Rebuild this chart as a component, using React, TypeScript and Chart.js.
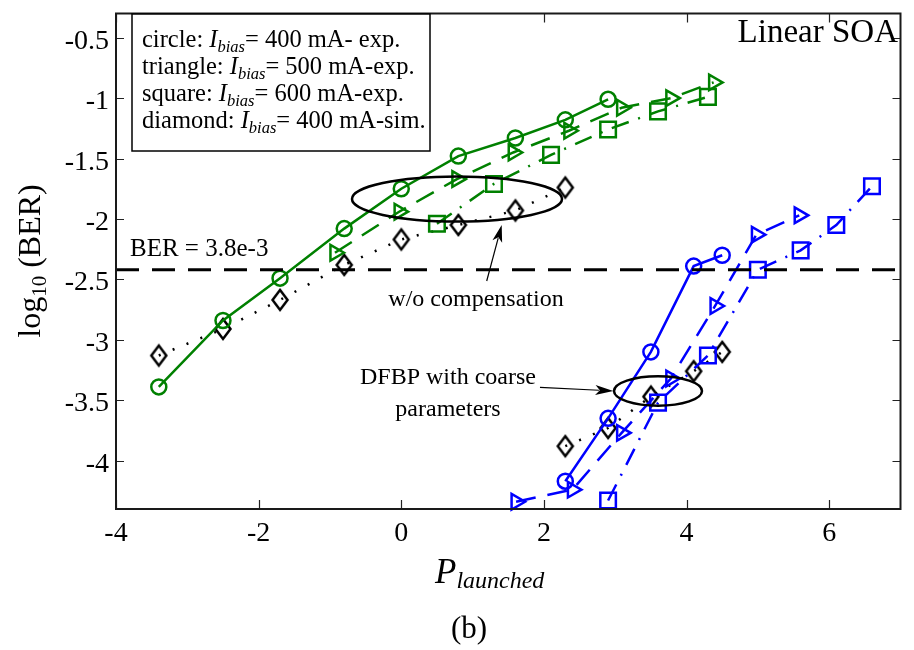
import React, { useEffect, useRef } from 'react';
import { Chart, registerables } from 'chart.js';

Chart.register(...registerables);

// Axis ticks
const xTicks = [-4, -2, 0, 2, 4, 6];
const xTickLabels = ['-4', '-2', '0', '2', '4', '6'];
const yTicks = [-4, -3.5, -3, -2.5, -2, -1.5, -1, -0.5];
const yTickLabels = ['-4', '-3.5', '-3', '-2.5', '-2', '-1.5', '-1', '-0.5'];

// BER threshold: log10(3.8e-3)
const berLevel = -2.42;

// Green: w/o compensation
const gCircleX = [-3.4, -2.5, -1.7, -0.8, 0.0, 0.8, 1.6, 2.3, 2.9];
const gCircleY = [-3.39, -2.84, -2.49, -2.08, -1.75, -1.48, -1.33, -1.18, -1.01];
const gTriX = [-0.93, -0.03, 0.78, 1.57, 2.35, 3.09, 3.78, 4.38];
const gTriY = [-2.28, -1.94, -1.67, -1.45, -1.27, -1.08, -1.0, -0.87];
const gSqX = [0.5, 1.3, 2.1, 2.9, 3.6, 4.3];
const gSqY = [-2.04, -1.71, -1.47, -1.26, -1.11, -0.99];
const gDiaX = [-3.4, -2.5, -1.7, -0.8, 0.0, 0.8, 1.6, 2.3];
const gDiaY = [-3.13, -2.91, -2.67, -2.38, -2.17, -2.05, -1.93, -1.74];

// Blue: DFBP with coarse parameters
const bCircleX = [2.3, 2.9, 3.5, 4.1, 4.5];
const bCircleY = [-4.17, -3.65, -3.1, -2.39, -2.3];
const bTriX = [1.61, 2.4, 3.09, 3.78, 4.4, 4.98, 5.58];
const bTriY = [-4.34, -4.24, -3.77, -3.32, -2.72, -2.13, -1.97];
const bSqX = [2.9, 3.6, 4.3, 5.0, 5.6, 6.1, 6.6];
const bSqY = [-4.33, -3.52, -3.13, -2.42, -2.26, -2.05, -1.73];
const bDiaX = [2.3, 2.9, 3.5, 4.1, 4.5];
const bDiaY = [-3.88, -3.73, -3.47, -3.26, -3.1];

const legendLines = [
  { pre: 'circle: ', post: '= 400 mA- exp.' },
  { pre: 'triangle: ', post: '= 500 mA-exp.' },
  { pre: 'square: ', post: '= 600 mA-exp.' },
  { pre: 'diamond: ', post: '= 400 mA-sim.' },
];

const GREEN = '#008000';
const BLUE = '#0000ff';
const FF = '"Liberation Serif", "Times New Roman", serif';

const pts = (xs: number[], ys: number[]) => xs.map((x, i) => ({ x, y: ys[i] }));

type Part = { t: string; font: string; dy?: number };

function drawRich(ctx: CanvasRenderingContext2D, parts: Part[], x: number, y: number, align: 'left' | 'center' | 'right' = 'left') {
  let w = 0;
  for (const p of parts) {
    ctx.font = p.font;
    w += ctx.measureText(p.t).width;
  }
  let cx = align === 'center' ? x - w / 2 : align === 'right' ? x - w : x;
  ctx.textAlign = 'left';
  ctx.textBaseline = 'alphabetic';
  for (const p of parts) {
    ctx.font = p.font;
    ctx.fillText(p.t, cx, y + (p.dy || 0));
    cx += ctx.measureText(p.t).width;
  }
}

function arrow(ctx: CanvasRenderingContext2D, x1: number, y1: number, x2: number, y2: number, len: number, half: number) {
  const a = Math.atan2(y2 - y1, x2 - x1);
  ctx.beginPath();
  ctx.moveTo(x1, y1);
  ctx.lineTo(x2 - Math.cos(a) * len * 0.8, y2 - Math.sin(a) * len * 0.8);
  ctx.stroke();
  const bx = x2 - Math.cos(a) * len;
  const by = y2 - Math.sin(a) * len;
  ctx.beginPath();
  ctx.moveTo(x2, y2);
  ctx.lineTo(bx - Math.sin(a) * half, by + Math.cos(a) * half);
  ctx.lineTo(x2 - Math.cos(a) * len * 0.75, y2 - Math.sin(a) * len * 0.75);
  ctx.lineTo(bx + Math.sin(a) * half, by - Math.cos(a) * half);
  ctx.closePath();
  ctx.fill();
}

export default function App() {
  const ref = useRef<HTMLCanvasElement>(null);

  useEffect(() => {
    const canvas = ref.current!;

    const diamond = document.createElement('canvas');
    diamond.width = 22;
    diamond.height = 28;
    const dctx = diamond.getContext('2d')!;
    dctx.strokeStyle = '#000';
    dctx.lineWidth = 2.5;
    dctx.beginPath();
    dctx.moveTo(11, 4);
    dctx.lineTo(18.5, 14);
    dctx.lineTo(11, 24);
    dctx.lineTo(3.5, 14);
    dctx.closePath();
    dctx.stroke();

    const mk = (xs: number[], ys: number[], color: string, style: any, radius: number, dash: number[], rot = 0) => ({
      data: pts(xs, ys),
      showLine: true,
      borderColor: color,
      borderWidth: 2.5,
      borderDash: dash,
      pointStyle: style,
      pointRadius: radius,
      pointHoverRadius: radius,
      pointBorderColor: color,
      pointBorderWidth: 2.5,
      pointBackgroundColor: 'rgba(0,0,0,0)',
      pointRotation: rot,
      clip: false,
      fill: false,
      tension: 0,
    });

    const DASH = [20, 12];
    const DASHDOT = [18, 10, 2, 10];
    const DOT = [2, 13];

    const overlay = {
      id: 'overlay',
      afterDraw(chart: any) {
        const ctx: CanvasRenderingContext2D = chart.ctx;
        const { left, right, top, bottom } = chart.chartArea;
        const xs = chart.scales.x;
        const ys = chart.scales.y;
        ctx.save();
        ctx.fillStyle = '#000';
        ctx.strokeStyle = '#000';

        // ticks
        ctx.lineWidth = 1.2;
        ctx.strokeStyle = '#222';
        xTicks.forEach((v) => {
          const px = Math.round(xs.getPixelForValue(v)) + 0.5;
          ctx.beginPath();
          ctx.moveTo(px, bottom);
          ctx.lineTo(px, bottom - 9);
          ctx.moveTo(px, top);
          ctx.lineTo(px, top + 9);
          ctx.stroke();
        });
        yTicks.forEach((v) => {
          const py = Math.round(ys.getPixelForValue(v)) + 0.5;
          ctx.beginPath();
          ctx.moveTo(left, py);
          ctx.lineTo(left + 8, py);
          ctx.moveTo(right, py);
          ctx.lineTo(right - 8, py);
          ctx.stroke();
        });

        // box
        ctx.lineWidth = 2;
        ctx.strokeStyle = '#1a1a1a';
        ctx.strokeRect(left, top, right - left, bottom - top);

        // tick labels
        ctx.fillStyle = '#000';
        ctx.font = `28px ${FF}`;
        ctx.textAlign = 'center';
        ctx.textBaseline = 'alphabetic';
        xTicks.forEach((v, i) => ctx.fillText(xTickLabels[i], xs.getPixelForValue(v), bottom + 32));
        ctx.textAlign = 'right';
        yTicks.forEach((v, i) => ctx.fillText(yTickLabels[i], left - 7, ys.getPixelForValue(v) + 11));

        // axis titles
        drawRich(ctx, [
          { t: 'P', font: `italic 35px ${FF}` },
          { t: 'launched', font: `italic 24px ${FF}`, dy: 5 },
        ], 435, 583, 'left');
        ctx.font = `31px ${FF}`;
        ctx.textAlign = 'center';
        ctx.fillText('(b)', 469, 638);

        ctx.save();
        ctx.translate(40, 261);
        ctx.rotate(-Math.PI / 2);
        drawRich(ctx, [
          { t: 'log', font: `32px ${FF}` },
          { t: '10', font: `21px ${FF}`, dy: 6 },
          { t: ' (BER)', font: `32px ${FF}` },
        ], 0, 0, 'center');
        ctx.restore();

        // Linear SOA
        ctx.font = `33px ${FF}`;
        ctx.textAlign = 'right';
        ctx.fillText('Linear SOA', 898, 42);

        // legend box
        ctx.fillStyle = '#fff';
        ctx.fillRect(132, 14, 298, 137);
        ctx.lineWidth = 1.5;
        ctx.strokeStyle = '#000';
        ctx.strokeRect(132, 14, 298, 137);
        ctx.fillStyle = '#000';
        legendLines.forEach((ln, i) => {
          drawRich(ctx, [
            { t: ln.pre, font: `24.5px ${FF}` },
            { t: 'I', font: `italic 24.5px ${FF}` },
            { t: 'bias', font: `italic 16.5px ${FF}`, dy: 5 },
            { t: ln.post, font: `24.5px ${FF}` },
          ], 142, 46.5 + i * 27.3, 'left');
        });

        // BER label
        ctx.font = `25px ${FF}`;
        ctx.textAlign = 'left';
        ctx.fillText('BER = 3.8e-3', 130, 255.5);

        // ellipses
        ctx.lineWidth = 2.5;
        ctx.strokeStyle = '#000';
        ctx.beginPath();
        ctx.ellipse(457, 199, 105, 22.5, 0, 0, Math.PI * 2);
        ctx.stroke();
        ctx.beginPath();
        ctx.ellipse(658, 391, 44, 14.7, 0, 0, Math.PI * 2);
        ctx.stroke();

        // arrows
        ctx.lineWidth = 1.2;
        arrow(ctx, 486.7, 281, 501.7, 225, 17, 5);
        arrow(ctx, 540, 387.3, 613.3, 391, 18, 5);

        // annotation texts
        ctx.font = `24px ${FF}`;
        ctx.textAlign = 'center';
        ctx.fillText('w/o compensation', 476, 306);
        ctx.fillText('DFBP with coarse', 448, 384);
        ctx.fillText('parameters', 448, 416);

        ctx.restore();
      },
    };

    const chart = new Chart(canvas, {
      type: 'scatter',
      data: {
        datasets: [
          {
            data: [{ x: -4, y: berLevel }, { x: 7, y: berLevel }],
            showLine: true,
            borderColor: '#000',
            borderWidth: 3,
            borderDash: [23, 13],
            pointRadius: 0,
            clip: false,
          } as any,
          mk(gCircleX, gCircleY, GREEN, 'circle', 7.5, []),
          mk(gTriX, gTriY, GREEN, 'triangle', 9, DASH, 90),
          mk(gSqX, gSqY, GREEN, 'rect', 11, DASHDOT),
          mk(gDiaX, gDiaY, '#000', diamond, 10, DOT),
          mk(bCircleX, bCircleY, BLUE, 'circle', 7.5, []),
          mk(bTriX, bTriY, BLUE, 'triangle', 9, DASH, 90),
          mk(bSqX, bSqY, BLUE, 'rect', 11, DASHDOT),
          mk(bDiaX, bDiaY, '#000', diamond, 10, DOT),
        ],
      },
      options: {
        responsive: false,
        maintainAspectRatio: false,
        devicePixelRatio: 1,
        animation: false,
        events: [],
        layout: { padding: { left: 116, top: 6, right: 4, bottom: 141 } },
        scales: {
          x: { type: 'linear', min: -4, max: 7, display: false },
          y: { type: 'linear', min: -4.4, max: -0.3, display: false },
        },
        plugins: {
          legend: { display: false },
          tooltip: { enabled: false },
        },
      },
      plugins: [overlay],
    });

    return () => chart.destroy();
  }, []);

  return (
    <div style={{ position: 'absolute', left: 0, top: 0, width: 914, height: 650, background: '#fff' }}>
      <canvas ref={ref} width={914} height={650} style={{ display: 'block', width: 914, height: 650 }} />
    </div>
  );
}
